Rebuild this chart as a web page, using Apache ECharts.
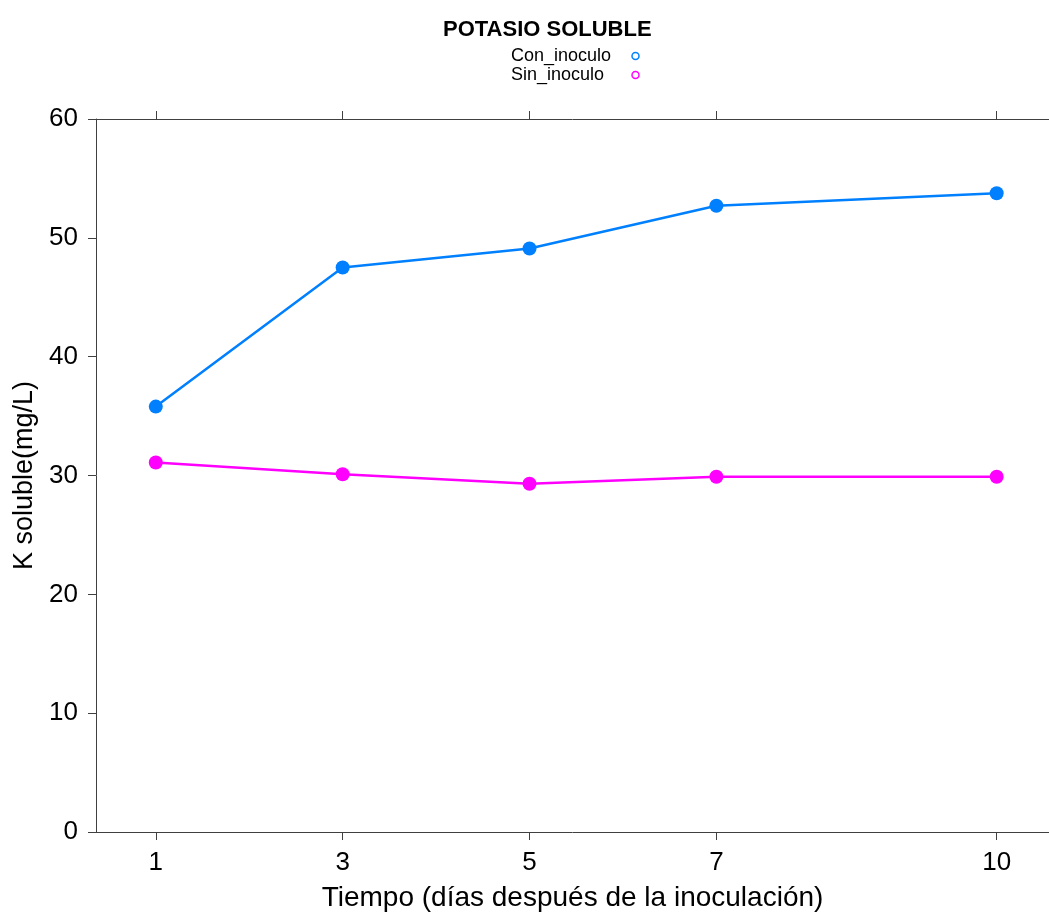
<!DOCTYPE html>
<html>
<head>
<meta charset="utf-8">
<script src="https://cdn.jsdelivr.net/npm/echarts@6/dist/echarts.min.js"></script>
<style>
  html, body { margin: 0; padding: 0; background: #fff; }
  #chart { width: 1049px; height: 913px; }
</style>
</head>
<body>
<div id="chart"></div>
<script>
// datos
var dias = [1, 3, 5, 7, 10]
var conInoculo = [35.8, 47.5, 49.1, 52.7, 53.75]
var sinInoculo = [31.1, 30.1, 29.3, 29.9, 29.9]
var yTicks = [0, 10, 20, 30, 40, 50, 60]

var font = 'Liberation Sans, Arial, sans-serif'
var axisColor = '#404040'

function pares(xs, ys) {
  return xs.map(function (x, i) { return [x, ys[i]] })
}

var myChart = echarts.init(document.getElementById('chart'))

var option = {
  animation: false,
  title: {
    text: 'POTASIO SOLUBLE',
    left: 443,
    top: 19,
    padding: 0,
    textStyle: { fontFamily: font, fontSize: 22, fontWeight: 'bold', color: '#000' }
  },
  legend: {
    orient: 'vertical',
    left: 511,
    top: 47,
    padding: 0,
    align: 'right',
    itemGap: 1,
    itemWidth: 7,
    itemHeight: 7,
    icon: 'circle',
    formatter: '{a|{name}}',
    textStyle: {
      fontFamily: font,
      fontSize: 18,
      color: '#000',
      rich: { a: { width: 116, align: 'left', fontFamily: font, fontSize: 18, lineHeight: 19 } }
    },
    data: [
      { name: 'Con_inoculo', itemStyle: { color: '#fff', borderColor: '#0080FF', borderWidth: 1.5 } },
      { name: 'Sin_inoculo', itemStyle: { color: '#fff', borderColor: '#FF00FF', borderWidth: 1.5 } }
    ]
  },
  grid: { left: 96, right: 0, top: 119, bottom: 81, containLabel: false, outerBoundsMode: 'none' },
  xAxis: [
    {
      type: 'value',
      min: 0.36,
      max: 10.56,
      position: 'bottom',
      name: 'Tiempo (días después de la inoculación)',
      nameLocation: 'middle',
      nameGap: 52,
      nameTextStyle: { fontFamily: font, fontSize: 28, color: '#000' },
      axisLine: { show: true, lineStyle: { color: axisColor, width: 1 } },
      axisTick: { show: true, length: 8, customValues: dias, lineStyle: { color: axisColor } },
      axisLabel: { customValues: dias, fontFamily: font, fontSize: 26, color: '#000', margin: 18 },
      splitLine: { show: false }
    },
    {
      type: 'value',
      min: 0.36,
      max: 10.56,
      position: 'top',
      axisLine: { show: true, lineStyle: { color: axisColor, width: 1 } },
      axisTick: { show: true, length: 8, customValues: dias, lineStyle: { color: axisColor } },
      axisLabel: { show: false },
      splitLine: { show: false }
    }
  ],
  yAxis: {
    type: 'value',
    min: 0,
    max: 60,
    interval: 10,
    name: 'K soluble(mg/L)',
    nameLocation: 'middle',
    nameGap: 58,
    nameTextStyle: { fontFamily: font, fontSize: 27, color: '#000' },
    axisLine: { show: true, lineStyle: { color: axisColor, width: 1 } },
    axisTick: { show: true, length: 8, customValues: yTicks, lineStyle: { color: axisColor } },
    axisLabel: { customValues: yTicks, fontFamily: font, fontSize: 26, color: '#000', margin: 18 },
    splitLine: { show: false }
  },
  series: [
    {
      name: 'Con_inoculo',
      type: 'line',
      data: pares(dias, conInoculo),
      symbol: 'circle',
      symbolSize: 14,
      lineStyle: { color: '#0080FF', width: 2.5 },
      itemStyle: { color: '#0080FF' }
    },
    {
      name: 'Sin_inoculo',
      type: 'line',
      data: pares(dias, sinInoculo),
      symbol: 'circle',
      symbolSize: 14,
      lineStyle: { color: '#FF00FF', width: 2.5 },
      itemStyle: { color: '#FF00FF' }
    }
  ]
}

myChart.setOption(option)
</script>
</body>
</html>
